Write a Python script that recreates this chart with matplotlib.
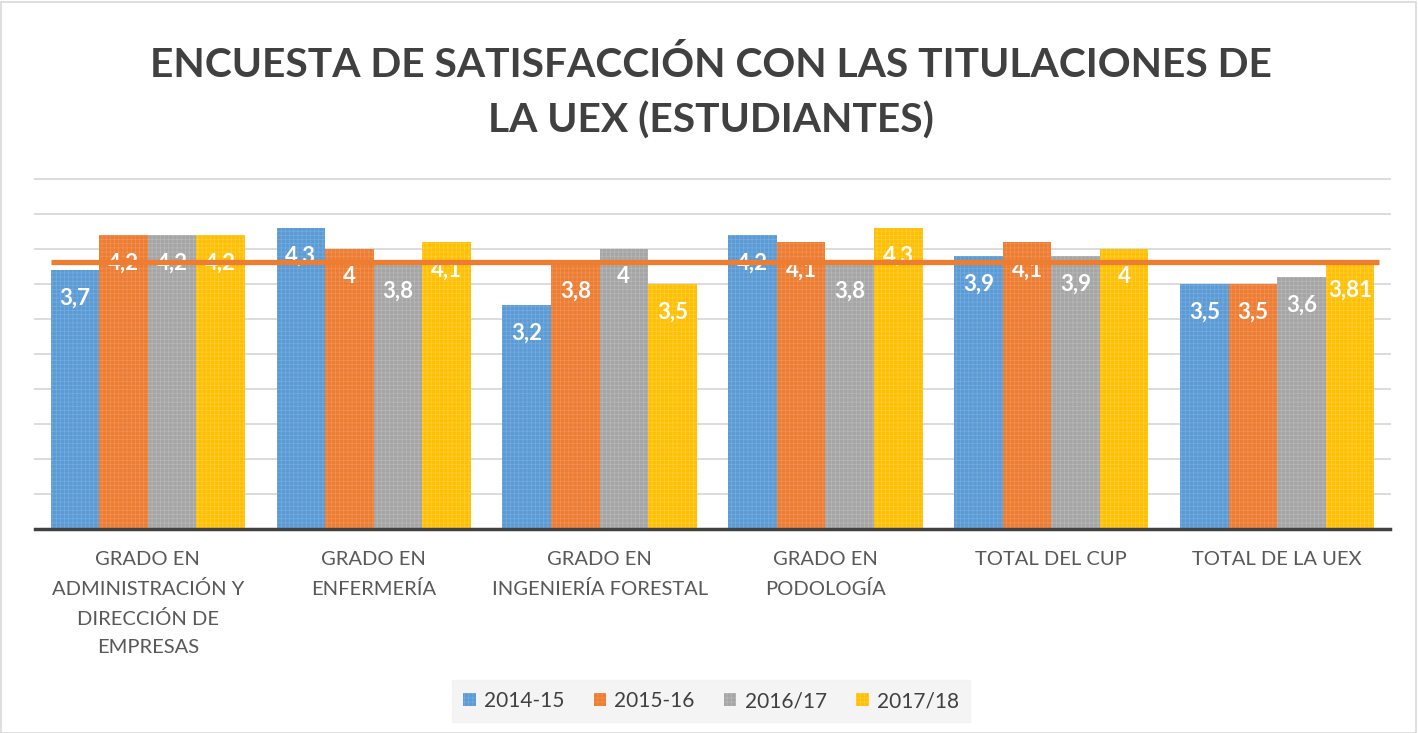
import matplotlib
matplotlib.use("Agg")
import matplotlib.pyplot as plt
import numpy as np
from matplotlib.patches import Rectangle

plt.rcParams["font.family"] = ["Lato", "DejaVu Sans"]
plt.rcParams["hatch.linewidth"] = 0.5

categories = ["GRADO EN\nADMINISTRACIÓN Y\nDIRECCIÓN DE\nEMPRESAS",
              "GRADO EN\nENFERMERÍA",
              "GRADO EN\nINGENIERÍA FORESTAL",
              "GRADO EN\nPODOLOGÍA",
              "TOTAL DEL CUP",
              "TOTAL DE LA UEX"]
series_names = ["2014-15", "2015-16", "2016/17", "2017/18"]
v_2014_15 = [3.7, 4.3, 3.2, 4.2, 3.9, 3.5]
v_2015_16 = [4.2, 4.0, 3.8, 4.1, 4.1, 3.5]
v_2016_17 = [4.2, 3.8, 4.0, 3.8, 3.9, 3.6]
v_2017_18 = [4.2, 4.1, 3.5, 4.3, 4.0, 3.81]
uex_ref = 3.81

colors = ["#5B9BD5", "#ED7D31", "#A5A5A5", "#FFC000"]
hatch_cols = ["#76ACDD", "#F1925A", "#B8B8B8", "#FFCC40"]


def fmt(v):
    s = f"{v:.2f}".rstrip("0").rstrip(".")
    return s.replace(".", ",")


fig = plt.figure(figsize=(14.18, 7.33), dpi=100)
W, H = 1418, 733
ax = fig.add_axes([35 / W, 1 - 529 / H, (1390 - 35) / W, (529 - 179) / H])

x = np.arange(len(categories))
bw = 0.215
series = [v_2014_15, v_2015_16, v_2016_17, v_2017_18]
for i, (vals, name) in enumerate(zip(series, series_names)):
    pos = x + (i - 1.5) * bw
    bars = ax.bar(pos, vals, width=bw, color=colors[i], edgecolor=hatch_cols[i],
                  linewidth=0, hatch="++++", label=name, zorder=2)
    for b, v in zip(bars, vals):
        ax.annotate(fmt(v), (b.get_x() + b.get_width() / 2, v),
                    xytext=(0, -28), textcoords="offset pixels",
                    ha="center", va="center", color="white", fontsize=16,
                    fontweight="bold", zorder=3)

# reference line: total UEX 2017/18
ax.plot([x[0] - 2 * bw, x[-1] + 2 * bw + 0.02], [uex_ref, uex_ref], color="#ED7D31",
        lw=3.8, zorder=4, solid_capstyle="butt")

ax.set_xlim(-0.5, len(categories) - 0.5)
ax.set_ylim(0, 5.0)
ax.set_yticks(np.arange(0.5, 5.01, 0.5))
ax.yaxis.grid(True, color="#D9D9D9", lw=1.3, zorder=0)
for gl in ax.get_ygridlines():
    gl.set_clip_on(False)
ax.tick_params(axis="y", left=False, labelleft=False)
ax.set_xticks(x)
ax.set_xticklabels(categories, fontsize=14.5, color="#595959", linespacing=1.8)
ax.tick_params(axis="x", length=0, pad=16)
for s in ["top", "right", "left"]:
    ax.spines[s].set_visible(False)
ax.spines["bottom"].set_color("#404040")
ax.spines["bottom"].set_linewidth(2.5)
ax.set_axisbelow(True)

fig.text(711 / W, 1 - 93 / H, "ENCUESTA DE SATISFACCIÓN CON LAS TITULACIONES DE\nLA UEX (ESTUDIANTES)",
         ha="center", va="center", fontsize=29.3, fontweight="bold", color="#404040",
         linespacing=1.58)

leg = fig.legend(loc="center", bbox_to_anchor=(711 / W, 1 - 701 / H), ncol=4,
                 frameon=True, fontsize=15, handlelength=0.6, handleheight=0.6,
                 handletextpad=0.4, columnspacing=1.4, borderpad=0.55)
leg.get_frame().set_facecolor("#F2F2F2")
leg.get_frame().set_edgecolor("#F2F2F2")
leg.get_frame().set_boxstyle("square", pad=0)
for t in leg.get_texts():
    t.set_color("#404040")

fig.patches.append(Rectangle((1 / W, 0), 1 - 3 / W, 1 - 2 / H, transform=fig.transFigure,
                             fill=False, edgecolor="#D9D9D9", lw=1.2))

fig.savefig("out.png", dpi=100)
